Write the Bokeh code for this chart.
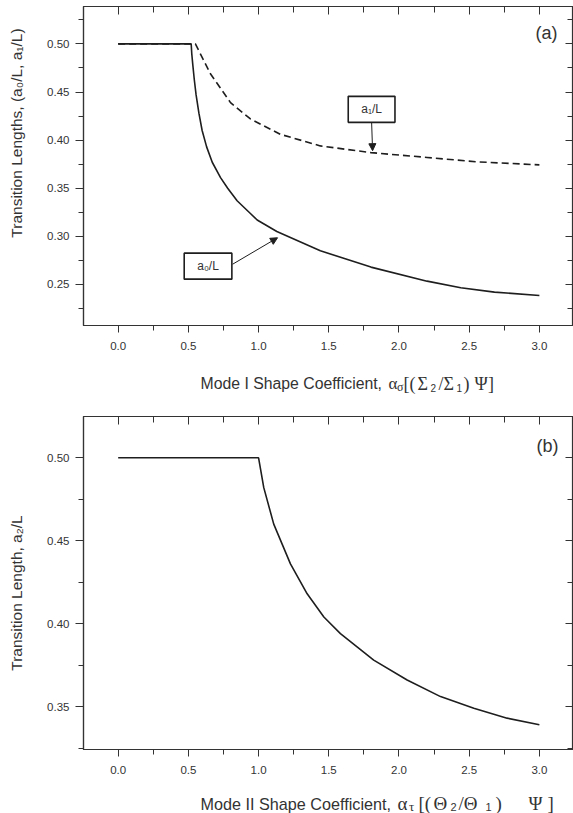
import math
from bokeh.plotting import figure
from bokeh.models import LinearAxis, FixedTicker, Label, Arrow, NormalHead, Range1d, NumeralTickFormatter
from bokeh.layouts import column, row
from bokeh.embed import file_html
from bokeh.resources import INLINE

# ---------------- data ----------------
# panel (a): mode I
a0_x = [0.0, 0.52, 0.524, 0.531, 0.542, 0.555, 0.575, 0.598, 0.63, 0.67, 0.729, 0.78, 0.847,
        0.94, 0.99, 1.13, 1.44, 1.80, 2.20, 2.44, 2.68, 3.00]
a0_y = [0.50, 0.50, 0.490, 0.479, 0.463, 0.447, 0.428, 0.410, 0.393, 0.377, 0.361, 0.350, 0.337,
        0.324, 0.317, 0.305, 0.285, 0.268, 0.2534, 0.2465, 0.242, 0.2385]
a1_x = [0.0, 0.55, 0.657, 0.80, 0.942, 1.156, 1.44, 1.80, 2.20, 2.557, 3.00]
a1_y = [0.50, 0.50, 0.469, 0.439, 0.422, 0.406, 0.394, 0.387, 0.382, 0.3774, 0.3743]
# panel (b): mode II
a2_x = [0.0, 1.0, 1.037, 1.108, 1.227, 1.346, 1.465, 1.583, 1.82, 2.058, 2.296, 2.533, 2.77, 3.00]
a2_y = [0.50, 0.50, 0.482, 0.460, 0.436, 0.418, 0.404, 0.394, 0.378, 0.366, 0.356, 0.349, 0.343, 0.339]

x_ticks = [0.0, 0.5, 1.0, 1.5, 2.0, 2.5, 3.0]
x_minor = [-0.25, 0.25, 0.75, 1.25, 1.75, 2.25, 2.75, 3.25]
ya_ticks = [0.25, 0.30, 0.35, 0.40, 0.45, 0.50]
ya_minor = [0.225, 0.275, 0.325, 0.375, 0.425, 0.475, 0.525]
yb_ticks = [0.35, 0.40, 0.45, 0.50]
yb_minor = [0.325, 0.375, 0.425, 0.475, 0.525]

SANS = "Liberation Sans"
SERIF = "Liberation Serif"
INK = "#1e1e1e"
AX = "#333333"
TXT = "#333333"
STRIP_W = 32
ROT_FIX = 38.5  # empirical shift of rotated labels


def make_fig(height, yr, min_top, min_bottom, yticks, yminor):
    p = figure(width=573 - STRIP_W, height=height, x_range=Range1d(-0.247, 3.243), y_range=Range1d(*yr),
               output_backend="svg", toolbar_location=None,
               min_border_left=83 - STRIP_W, min_border_right=0, min_border_top=min_top,
               min_border_bottom=min_bottom)
    p.xgrid.visible = False
    p.ygrid.visible = False
    p.outline_line_color = AX
    p.outline_line_width = 1.2

    bx = p.xaxis[0]
    bx.ticker = FixedTicker(ticks=x_ticks, minor_ticks=x_minor)
    bx.formatter = NumeralTickFormatter(format="0.0")
    by = p.yaxis[0]
    by.ticker = FixedTicker(ticks=yticks, minor_ticks=yminor)
    by.formatter = NumeralTickFormatter(format="0.00")
    for ax in (bx, by):
        ax.axis_line_color = AX
        ax.axis_line_width = 1.2
        ax.major_tick_line_color = AX
        ax.minor_tick_line_color = AX
        ax.major_tick_in = 0
        ax.minor_tick_in = 0
        ax.major_label_text_font = SANS
        ax.major_label_text_font_size = "11.5px"
        ax.major_label_text_color = TXT
    bx.major_tick_out = 7
    bx.minor_tick_out = 5
    bx.major_label_standoff = 9
    by.major_tick_out = 8
    by.minor_tick_out = 5
    by.major_label_standoff = 6

    top = LinearAxis(ticker=FixedTicker(ticks=x_ticks, minor_ticks=x_minor))
    right = LinearAxis(ticker=FixedTicker(ticks=yticks, minor_ticks=yminor))
    for ax in (top, right):
        ax.major_label_text_font_size = "1px"
        ax.major_label_text_color = None
        ax.major_label_standoff = 0
        ax.major_tick_out = 0
        ax.minor_tick_out = 0
        ax.major_tick_in = 8
        ax.minor_tick_in = 6
        ax.axis_line_color = AX
        ax.major_tick_line_color = AX
        ax.minor_tick_line_color = AX
    p.add_layout(top, "above")
    p.add_layout(right, "right")
    return p


def strip(w, h):
    s = figure(width=w, height=h, x_range=Range1d(0, w), y_range=Range1d(0, h),
               output_backend="svg", toolbar_location=None,
               x_axis_location=None, y_axis_location=None, min_border=0)
    s.xgrid.visible = False
    s.ygrid.visible = False
    s.outline_line_color = None
    return s


def lab(p, x, y, text, size, font=SANS, align="left", baseline="alphabetic", angle=0.0, color=TXT):
    p.add_layout(Label(x=x, y=y, x_units="screen", y_units="screen", text=text, text_font=font,
                       text_font_size=size, text_align=align, text_baseline=baseline,
                       angle=angle, text_color=color))


# ---------------- panel (a) ----------------
HA, XA = 362, 38
p1 = make_fig(HA, (0.2073, 0.5389), 6, 37, ya_ticks, ya_minor)
p1.line(a1_x, a1_y, line_color=INK, line_width=1.6, line_dash="7 4")
p1.line(a0_x, a0_y, line_color=INK, line_width=1.6)
lab(p1, 474, 293, "(a)", "18px", align="right", baseline="middle")

box_kw = dict(text_font=SANS, text_font_size="12px", text_color=TXT, text_align="center",
              text_baseline="middle", border_line_color=INK, border_line_width=1.6,
              background_fill_color="white", padding=dict(left=13, right=13, top=6, bottom=6))
p1.add_layout(Arrow(end=NormalHead(size=7, fill_color=INK, line_color=INK),
                    x_start=1.805, y_start=0.419, x_end=1.812, y_end=0.389, line_color=INK, line_width=1))
p1.add_layout(Arrow(end=NormalHead(size=7, fill_color=INK, line_color=INK),
                    x_start=0.815, y_start=0.271, x_end=1.135, y_end=0.2985, line_color=INK, line_width=1))
p1.add_layout(Label(x=1.805, y=0.432, text="a\u2081/L", **box_kw))
p1.add_layout(Label(x=0.64, y=0.269, text="a\u2080/L", **box_kw))

ya = strip(STRIP_W, HA)
lab(ya, 16, HA - 131 - ROT_FIX, "Transition Lengths, (a\u2080/L, a\u2081/L)", "15.5px", align="center",
    baseline="middle", angle=math.pi / 2)

xa = strip(573, XA)
b1 = XA - (383 - HA)
lab(xa, 200, b1, "Mode I Shape Coefficient,", "15.8px")
lab(xa, 388, b1, "\u03b1", "17px", font=SERIF)
lab(xa, 396.5, b1 - 3, "\u03c3", "12px", font=SERIF)
lab(xa, 403, b1, "[(", "18px", font=SERIF)
lab(xa, 417, b1, "\u03a3", "18px", font=SERIF)
lab(xa, 430, b1 - 4, "2", "10px")
lab(xa, 438, b1, "/\u03a3", "18px", font=SERIF)
lab(xa, 456, b1 - 4, "1", "10px")
lab(xa, 463, b1, ")", "18px", font=SERIF)
lab(xa, 474, b1, "\u03a8", "18px", font=SERIF)
lab(xa, 487.5, b1, "]", "18px", font=SERIF)

# ---------------- panel (b) ----------------
HB, XB = 381, 32
p2 = make_fig(HB, (0.3241, 0.5249), 16, 32, yb_ticks, yb_minor)
p2.line(a2_x, a2_y, line_color=INK, line_width=1.6)
lab(p2, 475, 304, "(b)", "18px", align="right", baseline="middle")

yb = strip(STRIP_W, HB)
lab(yb, 16, HB - (586 - 400) - ROT_FIX, "Transition Length, a\u2082/L", "15.5px", align="center",
    baseline="middle", angle=math.pi / 2)

xb = strip(573, XB)
b2 = XB - (803 - 400 - HB)
lab(xb, 200, b2, "Mode II Shape Coefficient,", "16.2px")
lab(xb, 397, b2, "\u03b1", "19px", font=SERIF)
lab(xb, 408.5, b2 - 3, "\u03c4", "13px", font=SERIF)
lab(xb, 418, b2, "[(", "19px", font=SERIF)
lab(xb, 433, b2, "\u0398", "19px", font=SERIF)
lab(xb, 450, b2 - 3, "2", "11px")
lab(xb, 458, b2, "/\u0398", "19px", font=SERIF)
lab(xb, 485, b2 - 3, "1", "11px")
lab(xb, 495, b2, ")", "19px", font=SERIF)
lab(xb, 528, b2, "\u03a8", "19px", font=SERIF)
lab(xb, 547, b2, "]", "19px", font=SERIF)

layout = column(row(ya, p1, spacing=0), xa, row(yb, p2, spacing=0), xb, spacing=0)
open("out.html", "w").write(file_html(layout, INLINE))
